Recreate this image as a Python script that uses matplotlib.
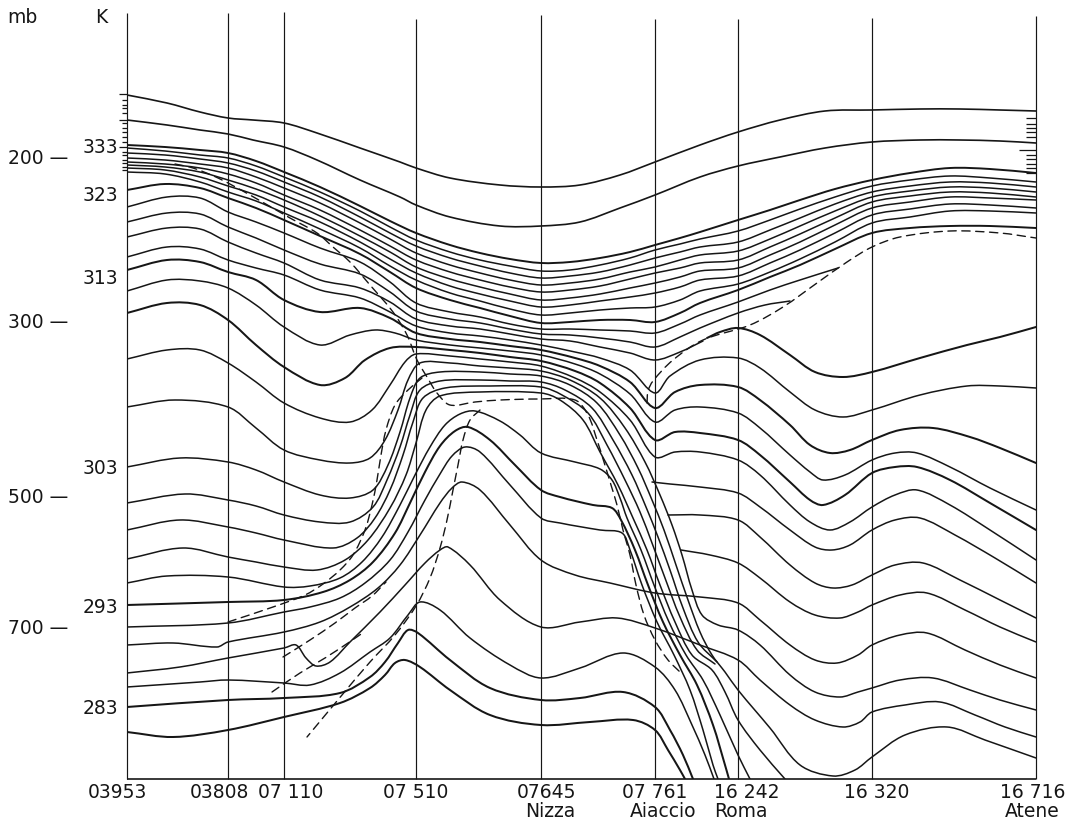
import numpy as np
import matplotlib
matplotlib.use("Agg")
import matplotlib.pyplot as plt
from matplotlib.path import Path
from matplotlib.patches import PathPatch

# stations along the section (position along the section, same units as the isentropes)
stations = ["03953", "03808", "07 110", "07 510", "07645", "07 761", "16 242", "16 320", "16 716"]
station_x = [127, 228, 284, 416, 541, 655, 738, 872, 1036]
station_top = [13, 13, 12, 19, 15, 19, 19, 18, 16]
cities = ["Nizza", "Aiaccio", "Roma", "Atene"]
city_x = [550, 663, 741, 1032]
station_label_x = [117, 219, 291, 416, 546, 655, 747, 877, 1033]

# vertical scale: pressure levels and potential temperature labels (vertical position)
pressure_mb = [200, 300, 500, 700]
pressure_y = [158, 322, 497, 628]
theta_k = [333, 323, 313, 303, 293, 283]
theta_y = [147, 195, 278, 468, 607, 708]

# 1 K marks of the stratospheric isentropes on the two outer soundings
left_marks = [94, 100, 105, 108, 113, 120, 123, 128, 132, 137, 142, 147, 152, 155, 160, 163, 167, 170]
left_long = [94, 120, 147]
right_marks = [118, 124, 128, 132, 137, 150, 155, 159, 164, 168, 173]
right_long = [150]

# upper stratosphere isentropes
top_x = [127, 167, 200, 228, 253, 284, 317, 360, 400, 416, 450, 500, 541, 580, 620, 655, 700, 738,
         780, 825, 872, 920, 960, 1000, 1036]
top_lines = [
    [95, 103, 112, 118, 120, 123, 133, 148, 162, 168, 178, 185, 187, 185, 175, 162, 145, 132,
     120, 111, 110, 109, 109, 110, 111],
    [120, 125, 130, 134, 140, 147, 160, 180, 197, 205, 217, 226, 226, 222, 208, 195, 177, 166,
     157, 148, 142, 140, 140, 141, 143],
]

# isentrope pack running through the whole section
pack_x = [127, 165, 200, 228, 256, 284, 320, 360, 390, 416, 450, 480, 510, 541, 570, 600, 630,
          655, 680, 700, 738, 770, 800, 835, 872, 910, 950, 990, 1036]
pack_lines = [
    [145, 147, 150, 153, 161, 172, 187, 206, 221, 233, 245, 253, 259, 263, 262, 258, 252, 245, 238, 232, 220, 210, 200, 189, 180, 173, 168, 169, 173],
    [148, 151, 155, 158, 166, 177, 192, 211, 227, 240, 252, 260, 266, 271, 270, 265, 258, 250, 244, 239, 231, 220, 209, 197, 186, 180, 176, 178, 182],
    [153, 155, 159, 163, 171, 182, 197, 217, 233, 246, 258, 266, 273, 278, 276, 272, 265, 258, 252, 247, 242, 230, 218, 204, 192, 186, 182, 183, 187],
    [158, 160, 164, 168, 177, 188, 203, 223, 239, 253, 265, 273, 280, 285, 283, 279, 272, 267, 260, 255, 251, 239, 226, 211, 197, 191, 187, 188, 192],
    [162, 164, 168, 174, 183, 195, 210, 230, 246, 260, 272, 280, 287, 292, 290, 286, 279, 273, 268, 263, 260, 247, 234, 218, 202, 196, 192, 193, 197],
    [165, 167, 172, 180, 189, 200, 216, 236, 252, 267, 279, 287, 294, 300, 298, 294, 288, 283, 277, 271, 268, 255, 242, 225, 208, 202, 197, 198, 200],
    [168, 170, 177, 186, 195, 207, 222, 242, 259, 273, 286, 294, 301, 307, 305, 301, 297, 293, 287, 280, 276, 263, 250, 233, 215, 209, 204, 205, 208],
    [172, 174, 182, 192, 201, 213, 229, 248, 266, 280, 293, 301, 309, 315, 313, 310, 308, 307, 300, 291, 284, 272, 259, 242, 223, 217, 211, 211, 213],
    [190, 184, 188, 198, 208, 220, 236, 254, 272, 288, 300, 308, 316, 323, 322, 320, 320, 322, 313, 303, 290, 277, 265, 249, 233, 228, 226, 226, 228],
]

# isentropes ending on the tropopause east of Ajaccio
q_lines = [
    [(127, 207), (167, 197), (200, 198), (228, 212), (256, 222), (284, 233), (320, 248), (360, 262), (390, 282), (416, 303), (450, 312), (480, 317), (510, 324), (541, 329), (570, 329), (600, 330), (630, 331), (655, 333), (680, 324), (700, 315), (738, 302), (770, 290), (800, 280), (838, 268)],
    [(127, 222), (167, 213), (200, 214), (228, 227), (256, 238), (284, 250), (320, 264), (360, 274), (390, 292), (416, 311), (450, 319), (480, 323), (510, 329), (541, 334), (570, 335), (600, 338), (630, 342), (655, 347), (680, 337), (700, 328), (738, 313), (765, 305), (790, 301)],
    [(127, 237), (167, 228), (200, 229), (228, 242), (256, 253), (284, 263), (320, 280), (360, 288), (390, 302), (416, 319), (450, 326), (480, 329), (510, 334), (541, 339), (570, 341), (600, 347), (630, 353), (655, 360), (680, 352), (703, 341)],
]

# isentropes dipping at Ajaccio and waving over Roma - Atene
v_lines = [
    [(127, 257), (167, 247), (200, 249), (228, 260), (256, 268), (284, 275), (320, 290), (360, 298), (390, 312), (416, 326), (450, 333), (480, 336), (510, 340), (541, 345), (575, 352), (600, 358), (630, 370), (655, 393), (670, 376), (700, 360), (738, 358), (760, 368), (790, 392), (815, 410), (843, 417), (872, 410), (920, 395), (967, 386), (1000, 386), (1036, 388)],
    [(127, 270), (167, 260), (200, 262), (228, 272), (256, 280), (284, 300), (320, 312), (360, 308), (390, 318), (416, 333), (450, 339), (480, 342), (510, 346), (541, 350), (575, 358), (600, 366), (630, 382), (655, 408), (675, 392), (700, 385), (738, 387), (760, 400), (790, 425), (810, 445), (830, 453), (850, 450), (872, 440), (900, 430), (933, 428), (970, 437), (1000, 448), (1036, 463)],
    [(127, 291), (167, 280), (200, 281), (228, 288), (256, 305), (284, 327), (320, 345), (350, 335), (375, 330), (395, 333), (416, 340), (450, 345), (480, 348), (510, 351), (541, 355), (575, 364), (600, 374), (630, 394), (655, 422), (675, 410), (700, 407), (738, 413), (760, 428), (790, 455), (810, 472), (823, 480), (845, 475), (872, 460), (895, 453), (917, 453), (950, 467), (990, 488), (1036, 510)],
    [(127, 313), (167, 303), (200, 305), (228, 320), (256, 345), (284, 367), (320, 385), (345, 378), (365, 360), (390, 348), (416, 347), (450, 350), (480, 353), (510, 357), (541, 361), (575, 371), (600, 383), (630, 408), (655, 440), (675, 432), (700, 433), (738, 440), (760, 455), (790, 482), (810, 500), (823, 505), (845, 495), (872, 473), (895, 467), (917, 467), (950, 480), (990, 503), (1036, 530)],
    [(127, 359), (167, 350), (200, 350), (228, 363), (256, 382), (284, 403), (320, 418), (350, 422), (372, 410), (390, 385), (405, 362), (416, 354), (450, 356), (480, 359), (510, 362), (541, 366), (575, 378), (600, 392), (630, 420), (655, 457), (675, 452), (700, 452), (738, 460), (760, 475), (790, 505), (810, 522), (830, 530), (850, 522), (872, 507), (895, 495), (917, 490), (950, 505), (990, 530), (1036, 560)],
]

# isentropes rising into the pack and descending through the Ajaccio frontal zone
b_lines = [
    [(127, 407), (175, 400), (228, 407), (256, 428), (284, 450), (320, 460), (350, 463), (370, 458), (385, 440), (398, 410), (408, 380), (420, 363), (450, 363), (480, 366), (510, 368), (541, 371), (570, 380), (600, 398), (625, 428), (645, 462), (660, 495), (672, 525), (682, 555), (692, 590), (702, 615), (718, 625), (738, 630), (760, 645), (790, 675), (815, 692), (840, 697), (858, 692), (872, 688), (900, 680), (933, 678), (970, 690), (1000, 700), (1036, 710)],
    [(127, 467), (180, 458), (228, 462), (256, 470), (284, 482), (320, 495), (350, 498), (373, 490), (388, 465), (400, 432), (410, 398), (420, 378), (440, 372), (480, 372), (510, 374), (541, 376), (570, 385), (597, 403), (620, 435), (638, 468), (652, 500), (664, 530), (676, 565), (688, 600), (700, 632), (712, 655), (725, 672), (738, 690), (770, 728), (800, 765), (833, 776), (855, 770), (872, 757), (905, 735), (947, 727), (985, 740), (1036, 758)],
    [(127, 503), (185, 494), (228, 500), (256, 506), (284, 515), (320, 522), (350, 522), (373, 507), (387, 480), (400, 447), (410, 415), (420, 390), (440, 381), (480, 380), (510, 381), (541, 382), (565, 390), (592, 408), (613, 440), (632, 475), (646, 507), (658, 537), (670, 570), (683, 608), (698, 642), (717, 662)],
    [(127, 530), (180, 520), (228, 527), (256, 533), (284, 540), (333, 548), (357, 538), (375, 518), (390, 490), (403, 455), (413, 422), (423, 398), (445, 388), (490, 386), (541, 387), (562, 395), (588, 413), (607, 445), (625, 480), (640, 512), (652, 543), (665, 578), (680, 617), (697, 650), (715, 664)],
    [(127, 559), (183, 548), (228, 557), (256, 562), (284, 567), (317, 570), (345, 560), (368, 540), (390, 508), (406, 475), (416, 443), (426, 410), (440, 396), (480, 392), (541, 393), (560, 400), (583, 420), (600, 452), (618, 485), (633, 518), (647, 550), (660, 585), (675, 622), (692, 655), (712, 670), (725, 692), (738, 720), (760, 750), (785, 779)],
]

# warm sector isentropes below the frontal surfaces
w_lines = [
    [(127, 583), (167, 576), (228, 577), (284, 587), (310, 586), (340, 578), (362, 562), (382, 537), (400, 505), (415, 475), (430, 447), (445, 425), (460, 414), (475, 411), (500, 421), (520, 435), (541, 453), (575, 462), (600, 469), (612, 480), (620, 498), (627, 518), (641, 550), (654, 585), (669, 622), (686, 655), (703, 680), (720, 715), (738, 755), (750, 779)],
    [(127, 605), (228, 602), (284, 600), (323, 592), (350, 580), (373, 562), (395, 533), (410, 503), (425, 472), (440, 446), (455, 431), (468, 427), (490, 440), (515, 465), (541, 490), (560, 497), (593, 505), (612, 508), (621, 520), (635, 550), (648, 585), (663, 622), (680, 655), (697, 685), (713, 725), (725, 765), (729, 779)],
    [(127, 627), (228, 623), (284, 612), (310, 607), (340, 598), (365, 583), (390, 560), (408, 532), (425, 500), (440, 474), (452, 456), (465, 447), (480, 452), (510, 485), (541, 518), (560, 523), (600, 530), (622, 533), (630, 550), (642, 585), (657, 622), (674, 655), (690, 690), (703, 730), (713, 765), (718, 779)],
    [(127, 645), (173, 643), (217, 647), (228, 642), (284, 632), (320, 622), (350, 607), (378, 588), (400, 565), (420, 535), (440, 503), (452, 488), (462, 482), (480, 490), (510, 525), (541, 560), (575, 575), (610, 583), (655, 593), (700, 597), (738, 603), (760, 620), (790, 645), (815, 660), (837, 663), (858, 655), (872, 645), (900, 635), (927, 633), (965, 650), (1000, 665), (1036, 678)],
    [(127, 673), (180, 667), (228, 658), (284, 648), (296, 645), (306, 658), (316, 666), (330, 662), (350, 642), (380, 612), (405, 585), (425, 563), (440, 550), (448, 547), (470, 565), (500, 600), (541, 627), (580, 622), (617, 618), (655, 628), (700, 645), (738, 660), (760, 680), (790, 705), (815, 720), (843, 727), (860, 722), (872, 712), (905, 705), (940, 702), (975, 715), (1005, 727), (1036, 737)],
    [(127, 687), (200, 682), (228, 680), (284, 683), (310, 685), (340, 673), (370, 652), (390, 638), (408, 615), (420, 602), (440, 610), (470, 638), (510, 665), (541, 678), (580, 668), (623, 653), (655, 667), (675, 690), (692, 725), (705, 755), (714, 779)],
    [(127, 707), (228, 700), (284, 698), (340, 693), (370, 677), (385, 662), (398, 643), (408, 630), (418, 633), (450, 660), (490, 688), (541, 700), (580, 698), (623, 692), (655, 707), (670, 730), (683, 755), (693, 779)],
    [(127, 732), (173, 737), (228, 730), (284, 717), (340, 703), (370, 688), (385, 675), (395, 663), (405, 660), (420, 667), (450, 690), (490, 715), (541, 725), (590, 722), (633, 720), (655, 730), (668, 750), (680, 770), (685, 779)],
]

# isentropes leaving the frontal zone towards Roma and Atene
r_lines = [
    [(707, 338), (720, 332), (738, 328), (760, 335), (790, 355), (815, 372), (843, 377), (872, 372), (920, 358), (967, 345), (1000, 337), (1036, 327)],
    [(652, 482), (670, 484), (700, 487), (738, 493), (760, 507), (790, 530), (815, 547), (832, 550), (850, 545), (872, 530), (895, 520), (920, 518), (955, 535), (995, 558), (1036, 583)],
    [(668, 515), (700, 515), (738, 520), (760, 537), (790, 565), (815, 583), (833, 588), (852, 585), (872, 575), (895, 565), (923, 563), (960, 580), (1000, 600), (1036, 618)],
    [(681, 550), (710, 555), (738, 563), (760, 578), (790, 602), (815, 615), (840, 618), (858, 612), (872, 605), (900, 595), (927, 593), (965, 610), (1000, 627), (1036, 642)],
]

# tropopause and frontal boundaries (dashed)
dashed_lines = [
    [(175, 164), (193, 168), (218, 178), (250, 195), (290, 218), (317, 233), (333, 247), (350, 262), (370, 285), (393, 312), (407, 335), (417, 360), (427, 377), (437, 393), (450, 405), (475, 402), (500, 400), (540, 399), (575, 400), (588, 415), (597, 440), (604, 462), (611, 485), (617, 505), (623, 530), (630, 555), (636, 585), (644, 615), (655, 640), (668, 660), (680, 672)],
    [(647, 403), (648, 391), (653, 381), (673, 360), (703, 340), (750, 325), (783, 307), (817, 283), (847, 262), (872, 247), (900, 237), (950, 231), (1000, 233), (1036, 238)],
    [(228, 622), (273, 607), (305, 595), (323, 584), (340, 570), (353, 555), (365, 530), (372, 505), (377, 480), (381, 455), (386, 430), (395, 405), (408, 390), (422, 378)],
    [(480, 410), (470, 420), (463, 440), (458, 465), (453, 490), (447, 520), (440, 548), (430, 578), (416, 606), (395, 635), (370, 662), (342, 695), (307, 737)],
    [(283, 657), (310, 640), (335, 623), (355, 608), (372, 596), (386, 582)],
    [(272, 692), (300, 673), (325, 658), (348, 643), (364, 632)],
]


def smooth_path(xs, ys):
    p = np.column_stack([xs, ys]).astype(float)
    d = np.hypot(*np.diff(p, axis=0).T)
    t = np.zeros_like(p)
    t[0] = (p[1] - p[0]) / d[0]
    t[-1] = (p[-1] - p[-2]) / d[-1]
    for i in range(1, len(p) - 1):
        t[i] = (p[i + 1] - p[i - 1]) / (d[i - 1] + d[i])
    verts, codes = [p[0]], [Path.MOVETO]
    for i in range(len(p) - 1):
        verts += [p[i] + t[i] * d[i] / 3, p[i + 1] - t[i + 1] * d[i] / 3, p[i + 1]]
        codes += [Path.CURVE4] * 3
    return Path(verts, codes)


INK = "#161616"

fig = plt.figure(figsize=(10.75, 8.22), dpi=100)
fig.patch.set_facecolor("white")
ax = fig.add_axes([127 / 1075, 43 / 822, 909 / 1075, 766 / 822])
ax.set_xlim(127, 1036)
ax.set_ylim(779, 13)
ax.set_axis_off()


def draw(xs, ys, lw=1.1, ls="-"):
    ax.add_patch(PathPatch(smooth_path(xs, ys), fill=False, ec=INK, lw=lw, ls=ls,
                           capstyle="round", joinstyle="round"))


for ys in top_lines:
    draw(top_x, ys, lw=1.2)
for i, ys in enumerate(pack_lines):
    draw(pack_x, ys, lw=1.4 if i in (0, 8) else 1.1)
for group in (q_lines, v_lines, b_lines, w_lines, r_lines):
    for k, pts in enumerate(group):
        xs, ys = zip(*pts)
        thick = (group is w_lines and k in (1, 6, 7)) or (group is r_lines and k == 0) \
            or (group is v_lines and k in (1, 3))
        draw(xs, ys, lw=1.45 if thick else 1.1)
for pts in dashed_lines:
    xs, ys = zip(*pts)
    draw(xs, ys, lw=1.0, ls=(0, (6, 4)))

# soundings and base line
ax.vlines(station_x, 779, station_top, colors=INK, lw=0.85, clip_on=False)
ax.hlines(779, station_x[0], station_x[-1], colors=INK, lw=1.2, clip_on=False)

# 1 K marks on outer soundings
for y in left_marks:
    ax.hlines(y, 119 if y in left_long else 122, 127, colors=INK, lw=0.9, clip_on=False)
for y in right_marks:
    ax.hlines(y, 1019 if y in right_long else 1026, 1036, colors=INK, lw=0.9, clip_on=False)

font = dict(family="DejaVu Sans", size=13.5, color=INK)
ax.text(22, 17, "mb", ha="center", va="center", **font)
ax.text(101, 17, "K", ha="center", va="center", **font)
for p, y in zip(pressure_mb, pressure_y):
    ax.text(8, y, f"{p} \u2014", ha="left", va="center", **font)
for t, y in zip(theta_k, theta_y):
    ax.text(118, y, str(t), ha="right", va="center", **font)
for name, x in zip(stations, station_label_x):
    ax.text(x, 792, name, ha="center", va="center", **font)
for name, x in zip(cities, city_x):
    ax.text(x, 811, name, ha="center", va="center", **font)

fig.savefig("out.png", dpi=100, facecolor="white")
